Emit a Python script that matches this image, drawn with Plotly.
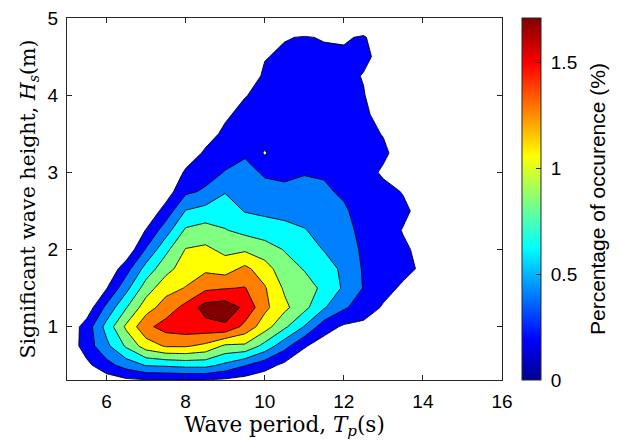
import plotly.graph_objects as go

# Wave period (s) grid and significant wave height (m) grid
tp = [5.0, 5.5, 6.0, 6.5, 7.0, 7.5, 8.0, 8.5, 9.0, 9.5,
      10.0, 10.5, 11.0, 11.5, 12.0, 12.5, 13.0, 13.5, 14.0, 14.5]
hs = [0.25, 0.5, 0.75, 1.0, 1.25, 1.5, 1.75, 2.0, 2.25, 2.5,
      2.75, 3.0, 3.25, 3.5, 3.75, 4.0, 4.25, 4.5, 4.75, 5.0]

# Percentage of occurrence, one list per wave period (values along hs)
occ_tp_5_0 = [0, 0, 0.05, 0.05, 0, 0, 0, 0, 0, 0, 0, 0, 0, 0, 0, 0, 0, 0, 0, 0]
occ_tp_5_5 = [0, 0.15, 0.30, 0.29, 0.08, 0, 0, 0, 0, 0, 0, 0, 0, 0, 0, 0, 0, 0, 0, 0]
occ_tp_6_0 = [0.03, 0.33, 0.55, 0.67, 0.45, 0.19, 0.03, 0, 0, 0, 0, 0, 0, 0, 0, 0, 0, 0, 0, 0]
occ_tp_6_5 = [0.07, 0.48, 0.83, 1.04, 0.79, 0.54, 0.32, 0.05, 0, 0, 0, 0, 0, 0, 0, 0, 0, 0, 0, 0]
occ_tp_7_0 = [0.06, 0.61, 1.10, 1.35, 1.11, 0.90, 0.68, 0.42, 0.21, 0.04, 0, 0, 0, 0, 0, 0, 0, 0, 0, 0]
occ_tp_7_5 = [0.05, 0.63, 1.22, 1.48, 1.29, 1.13, 0.93, 0.75, 0.51, 0.28, 0.10, 0, 0, 0, 0, 0, 0, 0, 0, 0]
occ_tp_8_0 = [0.05, 0.66, 1.22, 1.52, 1.46, 1.21, 1.10, 1.01, 0.83, 0.61, 0.36, 0.23, 0.08, 0, 0, 0, 0, 0, 0, 0]
occ_tp_8_5 = [0.05, 0.66, 1.15, 1.53, 1.68, 1.36, 1.16, 1.04, 0.88, 0.67, 0.43, 0.32, 0.23, 0.12, 0, 0, 0, 0, 0, 0]
occ_tp_9_0 = [0.05, 0.55, 0.96, 1.57, 1.71, 1.39, 1.11, 0.95, 0.81, 0.70, 0.59, 0.41, 0.32, 0.24, 0.17, 0.05, 0, 0, 0, 0]
occ_tp_9_5 = [0.04, 0.41, 0.96, 1.34, 1.56, 1.41, 1.25, 0.97, 0.74, 0.59, 0.52, 0.45, 0.38, 0.32, 0.26, 0.19, 0.08, 0, 0, 0]
occ_tp_10_0 = [0.02, 0.28, 0.73, 1.09, 1.25, 1.22, 1.09, 0.89, 0.70, 0.56, 0.45, 0.38, 0.18, 0.32, 0.29, 0.26, 0.23, 0.19, 0.05, 0]
occ_tp_10_5 = [0, 0.15, 0.47, 0.84, 1.05, 0.97, 0.88, 0.79, 0.66, 0.54, 0.42, 0.38, 0.36, 0.33, 0.31, 0.28, 0.26, 0.23, 0.19, 0]
occ_tp_11_0 = [0, 0.05, 0.22, 0.59, 0.86, 0.88, 0.79, 0.70, 0.61, 0.53, 0.45, 0.39, 0.36, 0.34, 0.32, 0.29, 0.27, 0.25, 0.21, 0]
occ_tp_11_5 = [0, 0, 0.10, 0.29, 0.62, 0.76, 0.71, 0.59, 0.54, 0.48, 0.43, 0.38, 0.35, 0.33, 0.31, 0.28, 0.26, 0.23, 0.19, 0]
occ_tp_12_0 = [0, 0, 0, 0.17, 0.43, 0.57, 0.55, 0.52, 0.48, 0.43, 0.37, 0.33, 0.31, 0.29, 0.28, 0.27, 0.25, 0.23, 0.18, 0]
occ_tp_12_5 = [0, 0, 0, 0.15, 0.30, 0.39, 0.38, 0.36, 0.33, 0.31, 0.30, 0.28, 0.27, 0.26, 0.24, 0.21, 0.19, 0.24, 0.22, 0]
occ_tp_13_0 = [0, 0, 0, 0.05, 0.18, 0.26, 0.28, 0.29, 0.29, 0.28, 0.26, 0.17, 0.24, 0.19, 0.12, 0.08, 0.05, 0.14, 0.08, 0]
occ_tp_13_5 = [0, 0, 0, 0, 0.05, 0.17, 0.25, 0.23, 0.19, 0.24, 0.19, 0.08, 0.10, 0, 0, 0, 0, 0, 0, 0]
occ_tp_14_0 = [0, 0, 0, 0, 0, 0.08, 0.17, 0.15, 0.08, 0.13, 0.03, 0, 0, 0, 0, 0, 0, 0, 0, 0]
occ_tp_14_5 = [0, 0, 0, 0, 0, 0, 0, 0, 0, 0, 0, 0, 0, 0, 0, 0, 0, 0, 0, 0]

occ_columns = [occ_tp_5_0, occ_tp_5_5, occ_tp_6_0, occ_tp_6_5, occ_tp_7_0,
               occ_tp_7_5, occ_tp_8_0, occ_tp_8_5, occ_tp_9_0, occ_tp_9_5,
               occ_tp_10_0, occ_tp_10_5, occ_tp_11_0, occ_tp_11_5, occ_tp_12_0,
               occ_tp_12_5, occ_tp_13_0, occ_tp_13_5, occ_tp_14_0, occ_tp_14_5]

x_ticks = [6, 8, 10, 12, 14, 16]
y_ticks = [1, 2, 3, 4, 5]
cbar_ticks = [0, 0.5, 1, 1.5]
cbar_ticktext = ["0", "0.5", "1", "1.5"]
levels_start, levels_end, levels_step = 0.2, 1.6, 0.2
cmax = 1.71

# Filled band colours (below first level, then jet(8))
band_colors = ["rgba(255,255,255,0)", "rgb(0,0,255)", "rgb(0,128,255)", "rgb(0,255,255)",
               "rgb(128,255,128)", "rgb(255,255,0)", "rgb(255,128,0)", "rgb(255,0,0)",
               "rgb(128,0,0)"]
n = len(band_colors) - 1
step_scale = []
for k, c in enumerate(band_colors):
    lo = 0 if k == 0 else (k - 0.5) / n
    hi = 1 if k == n else (k + 0.5) / n
    step_scale.append([lo, c])
    step_scale.append([hi, c])

jet = [[0.0, "rgb(0,0,143)"], [0.111, "rgb(0,0,255)"], [0.365, "rgb(0,255,255)"],
       [0.619, "rgb(255,255,0)"], [0.873, "rgb(255,0,0)"], [1.0, "rgb(128,0,0)"]]
clear = [[0, "rgba(0,0,0,0)"], [1, "rgba(0,0,0,0)"]]

ink = "#262626"
sans = "Liberation Sans, Arial, sans-serif"
serif = "DejaVu Serif, serif"

# page body has an 8px margin: figure is sized so the plot lands where the reference has it
W, H = 611, 436
ML, MR, MT, MB = 59, 117, 10, 64
plot_w = W - ML - MR

cbar_common = dict(
    xref="container", x=514 / W, xanchor="left", xpad=0,
    yref="paper", y=0.5, yanchor="middle", len=1, lenmode="fraction", ypad=0,
    thickness=19, thicknessmode="pixels", tickvals=cbar_ticks,
)

fig = go.Figure()
fig.add_trace(go.Contour(
    x=tp, y=hs, z=occ_columns, transpose=True,
    contours=dict(start=levels_start, end=levels_end, size=levels_step, coloring="fill"),
    colorscale=step_scale, showscale=False,
    line=dict(color="black", width=0.9, smoothing=0),
    hoverinfo="skip",
))
# colour bar with labels
fig.add_trace(go.Scatter(
    x=[None], y=[None], mode="markers", showlegend=False, hoverinfo="skip",
    marker=dict(color=[0], cmin=0, cmax=cmax, colorscale=jet, showscale=True,
                colorbar=dict(
                    **cbar_common,
                    outlinewidth=1, outlinecolor=ink,
                    ticktext=cbar_ticktext,
                    ticks="outside", ticklen=6, tickcolor="rgba(0,0,0,0)",
                    tickfont=dict(family=sans, size=19, color="#000"),
                )),
))
# overlay bar carrying the inward tick marks
fig.add_trace(go.Scatter(
    x=[None], y=[None], mode="markers", showlegend=False, hoverinfo="skip",
    marker=dict(color=[0], cmin=0, cmax=cmax, colorscale=clear, showscale=True,
                colorbar=dict(
                    **cbar_common,
                    outlinewidth=0, bgcolor="rgba(0,0,0,0)",
                    showticklabels=False,
                    ticks="inside", ticklen=5, tickcolor=ink,
                )),
))

fig.add_annotation(
    text="Percentage of occurence (%)", textangle=-90,
    xref="paper", yref="paper", x=(597 - 8 - ML) / plot_w, y=0.5,
    xanchor="center", yanchor="middle", showarrow=False,
    font=dict(family=sans, size=21, color="#000"),
)

fig.update_layout(
    width=W, height=H,
    margin=dict(l=ML, r=MR, t=MT, b=MB, autoexpand=False),
    paper_bgcolor="white", plot_bgcolor="white",
    showlegend=False,
    xaxis=dict(range=[5, 16], tickvals=x_ticks, ticks="inside", ticklen=5, tickwidth=1,
               tickcolor=ink, showline=True, linecolor=ink, linewidth=1, mirror="ticks",
               showgrid=False, zeroline=False, automargin=False,
               ticklabelstandoff=4, ticklabeloverflow="allow",
               tickfont=dict(family=sans, size=19, color="#000"),
               title=dict(text="Wave period, <i>T</i><sub><i>p</i></sub>(s)", standoff=4,
                          font=dict(family=serif, size=21.5, color="#000"))),
    yaxis=dict(range=[0.31, 5], tickvals=y_ticks, ticks="inside", ticklen=5, tickwidth=1,
               tickcolor=ink, showline=True, linecolor=ink, linewidth=1, mirror="ticks",
               showgrid=False, zeroline=False, automargin=False,
               ticklabelstandoff=4, ticklabeloverflow="allow",
               tickfont=dict(family=sans, size=19, color="#000"),
               title=dict(text="Significant wave height, <i>H</i><sub><i>s</i></sub>(m)", standoff=6,
                          font=dict(family=serif, size=20.5, color="#000"))),
)

fig.write_html("out.html")
